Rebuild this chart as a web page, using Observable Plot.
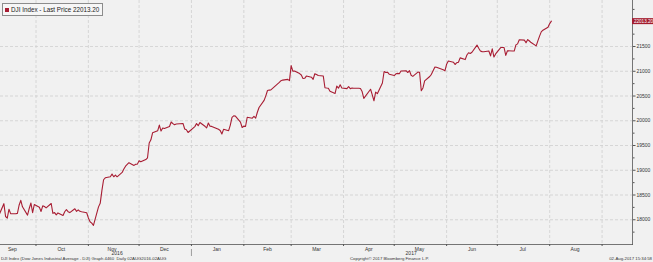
<!DOCTYPE html>
<html>
<head>
<meta charset="utf-8">
<script src="https://cdn.jsdelivr.net/npm/d3@7"></script>
<script src="https://cdn.jsdelivr.net/npm/@observablehq/plot@0.6"></script>
<style>
  html, body { margin: 0; padding: 0; background: #f1f1f1; }
  #wrap { position: relative; width: 653px; height: 262px; overflow: hidden; font-family: "Liberation Sans", Arial, sans-serif; }
  #legend { position: absolute; left: 2px; top: 3px; height: 11px; padding: 0 3px 0 2px; border: 1px solid #8c8c8c; background: #f6f6f6; font-size: 6.3px; line-height: 11px; color: #222; white-space: nowrap; }
  #legend i { display: inline-block; width: 4px; height: 4px; background: #a81d33; margin-right: 2px; vertical-align: 0px; }
  .foot { position: absolute; top: 256px; font-size: 4.3px; line-height: 5px; color: #333; white-space: nowrap; }
</style>
</head>
<body>
<div id="wrap">
  <div id="chart"></div>
  <div id="legend"><i></i>DJI Index - Last Price 22013.20</div>
  <div class="foot" style="left:1px">DJI Index (Dow Jones Industrial Average - DJI) Graph 4460&nbsp; Daily 02AUG2016-02AUG</div>
  <div class="foot" style="left:350px">Copyright© 2017 Bloomberg Finance L.P.</div>
  <div class="foot" style="right:1px">02-Aug-2017 15:34:58</div>
</div>
<script>
const dates = [
"2016-09-08","2016-09-09",
"2016-09-12","2016-09-13","2016-09-14","2016-09-15","2016-09-16","2016-09-19","2016-09-20","2016-09-21","2016-09-22","2016-09-23","2016-09-26","2016-09-27","2016-09-28","2016-09-29","2016-09-30",
"2016-10-03","2016-10-04","2016-10-05","2016-10-06","2016-10-07","2016-10-10","2016-10-11","2016-10-12","2016-10-13","2016-10-14","2016-10-17","2016-10-18","2016-10-19","2016-10-20","2016-10-21","2016-10-24","2016-10-25","2016-10-26","2016-10-27","2016-10-28","2016-10-31",
"2016-11-01","2016-11-02","2016-11-03","2016-11-04","2016-11-07","2016-11-08","2016-11-09","2016-11-10","2016-11-11","2016-11-14","2016-11-15","2016-11-16","2016-11-17","2016-11-18","2016-11-21","2016-11-22","2016-11-23","2016-11-25","2016-11-28","2016-11-29","2016-11-30",
"2016-12-01","2016-12-02","2016-12-05","2016-12-06","2016-12-07","2016-12-08","2016-12-09","2016-12-12","2016-12-13","2016-12-14","2016-12-15","2016-12-16","2016-12-19","2016-12-20","2016-12-21","2016-12-22","2016-12-23","2016-12-27","2016-12-28","2016-12-29","2016-12-30",
"2017-01-03","2017-01-04","2017-01-05","2017-01-06","2017-01-09","2017-01-10","2017-01-11","2017-01-12","2017-01-13","2017-01-17","2017-01-18","2017-01-19","2017-01-20","2017-01-23","2017-01-24","2017-01-25","2017-01-26","2017-01-27","2017-01-30","2017-01-31",
"2017-02-01","2017-02-02","2017-02-03","2017-02-06","2017-02-07","2017-02-08","2017-02-09","2017-02-10","2017-02-13","2017-02-14","2017-02-15","2017-02-16","2017-02-17","2017-02-21","2017-02-22","2017-02-23","2017-02-24","2017-02-27","2017-02-28",
"2017-03-01","2017-03-02","2017-03-03","2017-03-06","2017-03-07","2017-03-08","2017-03-09","2017-03-10","2017-03-13","2017-03-14","2017-03-15","2017-03-16","2017-03-17","2017-03-20","2017-03-21","2017-03-22","2017-03-23","2017-03-24","2017-03-27","2017-03-28","2017-03-29","2017-03-30","2017-03-31",
"2017-04-03","2017-04-04","2017-04-05","2017-04-06","2017-04-07","2017-04-10","2017-04-11","2017-04-12","2017-04-13","2017-04-17","2017-04-18","2017-04-19","2017-04-20","2017-04-21","2017-04-24","2017-04-25","2017-04-26","2017-04-27","2017-04-28",
"2017-05-01","2017-05-02","2017-05-03","2017-05-04","2017-05-05","2017-05-08","2017-05-09","2017-05-10","2017-05-11","2017-05-12","2017-05-15","2017-05-16","2017-05-17","2017-05-18","2017-05-19","2017-05-22","2017-05-23","2017-05-24","2017-05-25","2017-05-26","2017-05-30","2017-05-31",
"2017-06-01","2017-06-02","2017-06-05","2017-06-06","2017-06-07","2017-06-08","2017-06-09","2017-06-12","2017-06-13","2017-06-14","2017-06-15","2017-06-16","2017-06-19","2017-06-20","2017-06-21","2017-06-22","2017-06-23","2017-06-26","2017-06-27","2017-06-28","2017-06-29","2017-06-30",
"2017-07-03","2017-07-05","2017-07-06","2017-07-07","2017-07-10","2017-07-11","2017-07-12","2017-07-13","2017-07-14","2017-07-17","2017-07-18","2017-07-19","2017-07-20","2017-07-21","2017-07-24","2017-07-25","2017-07-26","2017-07-27","2017-07-28","2017-07-31",
"2017-08-01","2017-08-02"
];
const closes = [
18480,18085,
18325,18066,18034,18212,18123,18120,18129,18293,18392,18261,18094,18228,18339,18143,18308,
18253,18168,18281,18268,18240,18329,18129,18144,18098,18138,18087,18162,18203,18163,18145,18223,18169,18199,18170,18161,18142,
18037,17959,17931,17888,18260,18332,18589,18808,18848,18869,18923,18868,18904,18868,18957,19024,19083,19153,19098,19122,19124,
19192,19171,19217,19252,19550,19615,19757,19797,19912,19792,19853,19844,19884,19975,19942,19919,19934,19946,19834,19820,19763,
19882,19943,19900,19964,19888,19855,19954,19891,19886,19827,19804,19732,19827,19799,19913,20069,20100,20094,19971,19864,
19891,19884,20071,20052,20090,20054,20172,20269,20413,20504,20612,20620,20624,20744,20775,20810,20822,20837,20812,
21115,21003,21006,20954,20924,20855,20858,20903,20881,20837,20950,20934,20915,20906,20668,20661,20656,20597,20551,20701,20659,20728,20663,
20650,20689,20648,20662,20656,20658,20651,20591,20453,20637,20523,20404,20578,20548,20763,20996,20975,20981,20941,
20913,20949,20958,20951,21007,21012,20975,21012,20919,20897,20982,20980,20607,20663,20805,20895,20938,21012,21083,21080,21029,21009,
21144,21206,21184,21136,21173,21182,21271,21236,21328,21374,21360,21384,21529,21467,21410,21397,21395,21410,21311,21455,21288,21350,
21479,21479,21321,21414,21409,21409,21533,21554,21638,21630,21575,21641,21612,21580,21513,21613,21711,21797,21830,21891,
21964,22013.2
];
const lastPrice = 22013.20;
const monthStarts = ["2016-10-01","2016-11-01","2016-12-01","2017-01-01","2017-02-01","2017-03-01","2017-04-01","2017-05-01","2017-06-01","2017-07-01","2017-08-01","2017-09-01"];
const monthLabels = ["Sep","Oct","Nov","Dec","Jan","Feb","Mar","Apr","May","Jun","Jul","Aug"];
const monthLabelDates = ["2016-09-17","2016-10-16","2016-11-15","2016-12-16","2017-01-16","2017-02-15","2017-03-16","2017-04-16","2017-05-16","2017-06-16","2017-07-16","2017-08-16"];
const yearLabels = ["2016","2017"];
const yearLabelDates = ["2016-11-18","2017-05-11"];
const yearBreak = ["2017-01-01"];
const yMajor = [18000,18500,19000,19500,20000,20500,21000,21500];
const yMinor = [17750,18250,18750,19250,19750,20250,20750,21250,21750,22250];
const xDomain = ["2016-09-10","2017-09-19"];
const yDomain = [17500,22430];

const P = d3.timeParse("%Y-%m-%d");
const series = dates.map((d, i) => ({date: P(d), value: closes[i]}));
const months = monthStarts.map(P);
const mLabels = monthLabels.map((t, i) => ({date: P(monthLabelDates[i]), t}));
const yLabs = yearLabels.map((t, i) => ({date: P(yearLabelDates[i]), t}));

const red = "#a81d33";
const font = "Liberation Sans, Arial, sans-serif";

const chart = Plot.plot({
  width: 653,
  height: 262,
  marginLeft: 0,
  marginRight: 21,
  marginTop: 0,
  marginBottom: 18,
  style: {background: "#f1f1f1", fontFamily: font, fontSize: "5px", color: "#333", overflow: "visible"},
  x: {type: "time", domain: xDomain.map(P), axis: null, label: null},
  y: {type: "linear", domain: yDomain, axis: null, label: null},
  marks: [
    Plot.ruleX(months, {stroke: "#cfcfcf", strokeDasharray: "3,2", strokeWidth: 0.8}),
    Plot.ruleY(yMajor, {stroke: "#cfcfcf", strokeDasharray: "3,2", strokeWidth: 0.8}),
    Plot.line(series, {x: "date", y: "value", stroke: red, strokeWidth: 1.1, clip: true}),
    Plot.frame({anchor: "bottom", stroke: "#555", strokeWidth: 0.8}),
    Plot.frame({anchor: "right", stroke: "#555", strokeWidth: 0.8}),
    Plot.axisX(months, {anchor: "bottom", tickSize: 2, tickFormat: () => "", stroke: "#555", label: null}),
    Plot.text(mLabels, {x: "date", text: "t", frameAnchor: "bottom", dy: 6, fontSize: 5, fill: "#333"}),
    Plot.text(yLabs, {x: "date", text: "t", frameAnchor: "bottom", dy: 10.5, fontSize: 5, fill: "#333"}),
    Plot.ruleX(yearBreak.map(P), {x: d => d, insetTop: 249, insetBottom: -12, stroke: "#666", strokeWidth: 0.6}),
    Plot.axisY(yMinor, {anchor: "right", tickSize: 1.5, tickFormat: () => "", stroke: "#555", label: null}),
    Plot.axisY(yMajor, {anchor: "right", tickSize: 2.5, tickPadding: 1.5, tickFormat: d => String(d), fontSize: 5, fill: "#333", stroke: "#555", label: null}),
    Plot.ruleY([lastPrice], {y: d => d, stroke: "#a31c2e", strokeWidth: 6, insetLeft: 632, insetRight: -21}),
    Plot.text([lastPrice], {y: d => d, text: d => d.toFixed(2), frameAnchor: "right", textAnchor: "middle", dx: 11, fill: "white", fontSize: 4.6})
  ]
});
document.getElementById("chart").appendChild(chart);
</script>
</body>
</html>
